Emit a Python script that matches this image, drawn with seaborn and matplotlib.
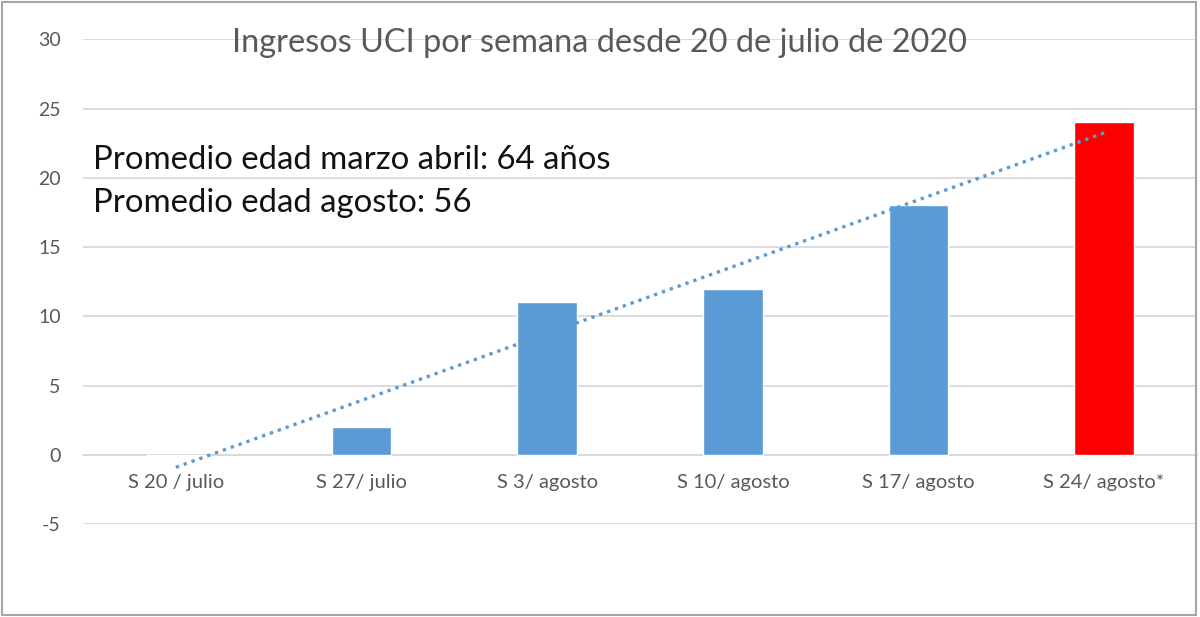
import numpy as np
import pandas as pd
import matplotlib
matplotlib.use("Agg")
import matplotlib.pyplot as plt
import seaborn as sns
from matplotlib.patches import Rectangle

categories = ["S 20 / julio", "S 27/ julio", "S 3/ agosto", "S 10/ agosto", "S 17/ agosto", "S 24/ agosto*"]
values = [0, 2, 11, 12, 18, 24]
bar_colors = ["#5B9BD5", "#5B9BD5", "#5B9BD5", "#5B9BD5", "#5B9BD5", "#FF0000"]
y_ticks = [-5, 0, 5, 10, 15, 20, 25, 30]
title = "Ingresos UCI por semana desde 20 de julio de 2020"
note_lines = ["Promedio edad marzo abril: 64 años", "Promedio edad agosto: 56"]

sns.set_theme(style="white")
plt.rcParams["font.family"] = ["Lato", "DejaVu Sans"]

df = pd.DataFrame({"cat": categories, "val": values, "pos": np.arange(len(categories))})

fig = plt.figure(figsize=(12, 6.17), dpi=100)
ax = fig.add_axes([83 / 1200, 1 - 524 / 617, 1114 / 1200, (524 - 39.3) / 617])

sns.barplot(data=df, x="cat", y="val", hue="cat", palette=bar_colors, legend=False,
            width=0.32, saturation=1, ax=ax, zorder=3)

sns.regplot(data=df, x="pos", y="val", scatter=False, ci=None, ax=ax,
            line_kws=dict(color="#5B9BD5", linestyle=(0, (1, 1.5)), linewidth=2.4, zorder=4))

ax.set_xlim(-0.5, len(categories) - 0.5)
ax.set_ylim(-5, 30)
ax.set_yticks(y_ticks)
ax.set_yticklabels([str(t) for t in y_ticks])
ax.set_xticks(np.arange(len(categories)))
ax.set_xticklabels(categories)
ax.set_xlabel("")
ax.set_ylabel("")
ax.yaxis.grid(True, color="#D9D9D9", linewidth=1.3, zorder=0)
ax.set_axisbelow(True)
for s in ["top", "right", "left"]:
    ax.spines[s].set_visible(False)
ax.spines["bottom"].set_position(("data", 0))
ax.spines["bottom"].set_color("#D9D9D9")
ax.spines["bottom"].set_linewidth(1.3)
ax.tick_params(axis="x", length=0, pad=14, labelsize=14.5, labelcolor="#595959")
ax.tick_params(axis="y", length=0, pad=16, labelsize=14, labelcolor="#595959")

fig.text(0.5, 1 - 43 / 617, title, ha="center", va="center", fontsize=23.4, color="#595959")
fig.text(93 / 1200, 1 - 160 / 617, note_lines[0], ha="left", va="center", fontsize=23.7, color="#111111")
fig.text(93 / 1200, 1 - 203 / 617, note_lines[1], ha="left", va="center", fontsize=23.7, color="#111111")

fig.patches.append(Rectangle((0.002, 0.004), 0.995, 0.993, transform=fig.transFigure,
                             fill=False, edgecolor="#A6A6A6", linewidth=1.5))

fig.savefig("out.png", dpi=100, facecolor="white")
